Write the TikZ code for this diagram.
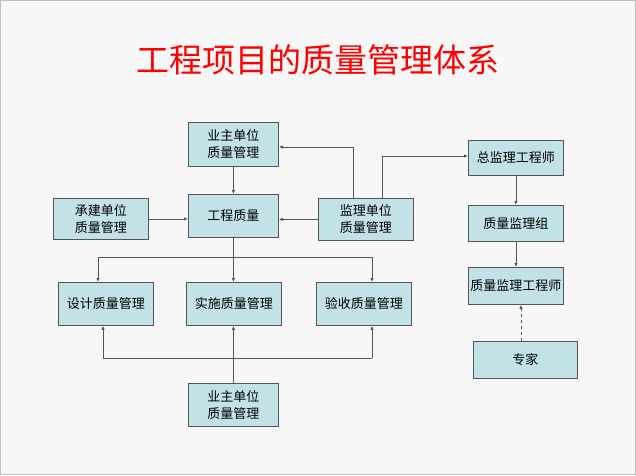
\documentclass[tikz,border=0pt]{standalone}
\usepackage{fontspec}
\setmainfont{Noto Sans CJK SC}
\usetikzlibrary{arrows.meta}
\definecolor{boxfill}{HTML}{C2E2E8}
\definecolor{ln}{HTML}{555555}
\begin{document}
\begin{tikzpicture}[x=1pt,y=-1pt,
  box/.style={draw=ln,fill=boxfill,line width=0.8pt,align=center,inner sep=0pt,font=\fontsize{13}{17}\selectfont,anchor=north west},
  con/.style={draw=ln,line width=0.8pt,-{Latex[length=4pt,width=3.5pt]}},
  ln/.style={draw=ln,line width=0.8pt}]
\fill[white!97!black] (0,0) rectangle (636,475);
\draw[gray!50] (0.5,0.5) rectangle (635.5,474.5);
\node[text=red,font=\fontsize{33}{36}\selectfont\addfontfeatures{FakeBold=0}] (title) at (318,60) {工程项目的质量管理体系};
\node[box,minimum width=90,minimum height=44] (yz1) at (188,122) {业主单位\\质量管理};
\node[box,minimum width=95,minimum height=41] (cj) at (53,198) {承建单位\\质量管理};
\node[box,minimum width=90,minimum height=43] (gc) at (188,194) {工程质量};
\node[box,minimum width=95,minimum height=42] (jl) at (318,198) {监理单位\\质量管理};
\node[box,minimum width=95,minimum height=43] (sj) at (58,282) {设计质量管理};
\node[box,minimum width=95,minimum height=43] (ss) at (186,282) {实施质量管理};
\node[box,minimum width=95,minimum height=43] (ys) at (316,282) {验收质量管理};
\node[box,minimum width=90,minimum height=43] (yz2) at (188,383) {业主单位\\质量管理};
\node[box,minimum width=95,minimum height=35] (zj) at (468,140) {总监理工程师};
\node[box,minimum width=95,minimum height=36] (zl) at (468,205) {质量监理组};
\node[box,minimum width=95,minimum height=37] (gcs) at (468,267) {质量监理工程师};
\node[box,minimum width=104,minimum height=37] (exp) at (473,341) {专家};
\coordinate (s1) at (gc.south |- 0,257);
\coordinate (s2) at (yz2.north |- 0,358);
\draw[con] (yz1) -- (gc);
\draw[con] (cj.east) -- (gc.west |- cj.east);
\draw[con] (jl.west) -- (gc.east |- jl.west);
\draw[con] (jl.north -| 353,0) |- (yz1.east |- 0,147);
\draw[con] (jl.north -| 382,0) |- (zj.west |- 0,156);
\draw[ln] (gc.south) -- (s1);
\draw[ln] (98,257) -- (372,257);
\draw[con] (98,257) -- (sj.north -| 98,0);
\draw[con] (s1) -- (ss.north -| s1);
\draw[con] (372,257) -- (ys.north -| 372,0);
\draw[ln] (yz2.north) -- (s2);
\draw[ln] (103,358) -- (372,358);
\draw[con] (103,358) -- (sj.south -| 103,0);
\draw[con] (s2) -- (ss.south -| s2);
\draw[con] (372,358) -- (ys.south -| 372,0);
\draw[con] (zj) -- (zl.north -| zj.south);
\draw[con] (zl) -- (gcs.north -| zl.south);
\draw[con,dashed] (exp.north -| 521,0) -- (gcs.south -| 521,0);
\end{tikzpicture}
\end{document}
